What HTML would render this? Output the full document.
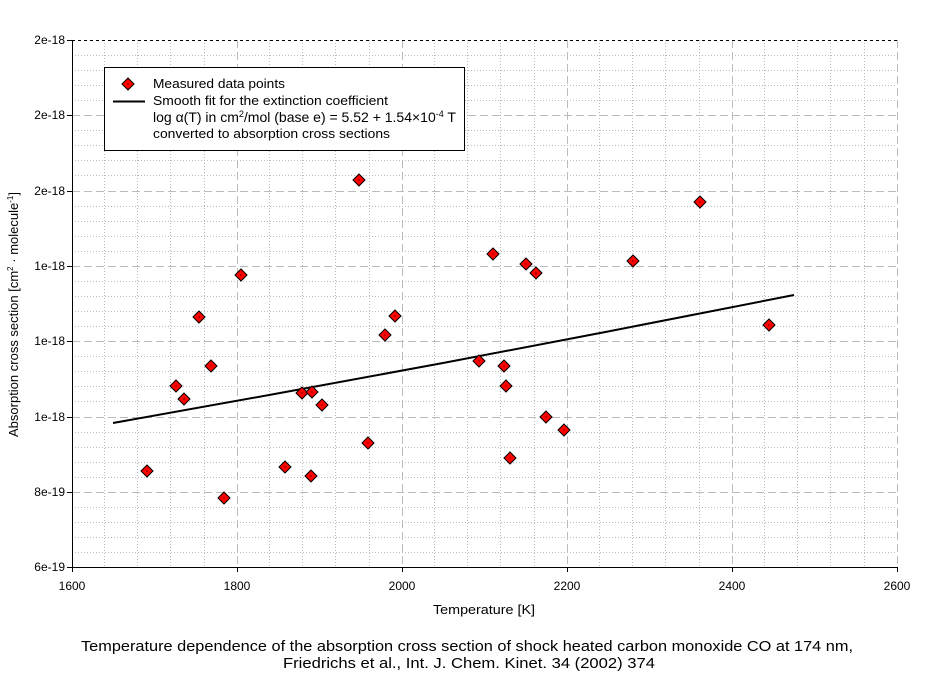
<!DOCTYPE html>
<html><head><meta charset="utf-8"><style>
body{margin:0;background:#fff;}
svg{display:block;font-family:"Liberation Sans",sans-serif;}
</style></head><body>
<svg width="937" height="676" viewBox="0 0 937 676">
<defs>
<g id="d"><polygon points="0,-6 6,0 0,6 -6,0" fill="#f00" stroke="#000" stroke-width="1"/><rect x="-0.5" y="-0.5" width="1" height="1" fill="#000"/></g>
</defs>
<g stroke="#bbb" stroke-width="1" stroke-dasharray="1,2">
<path d="M104.5 40V567M137.5 40V567M170.5 40V567M204.5 40V567M269.5 40V567M302.5 40V567M335.5 40V567M369.5 40V567M434.5 40V567M467.5 40V567M500.5 40V567M534.5 40V567M599.5 40V567M632.5 40V567M665.5 40V567M699.5 40V567M764.5 40V567M797.5 40V567M830.5 40V567M864.5 40V567"/>
<path d="M72 55.5H897M72 70.5H897M72 85.5H897M72 100.5H897M72 130.5H897M72 145.5H897M72 160.5H897M72 175.5H897M72 206.5H897M72 221.5H897M72 236.5H897M72 251.5H897M72 281.5H897M72 296.5H897M72 311.5H897M72 326.5H897M72 356.5H897M72 371.5H897M72 386.5H897M72 401.5H897M72 432.5H897M72 447.5H897M72 462.5H897M72 477.5H897M72 507.5H897M72 522.5H897M72 537.5H897M72 552.5H897"/>
</g>
<g stroke="#bbb" stroke-width="1" stroke-dasharray="8,4">
<path d="M237.5 40V567M402.5 40V567M567.5 40V567M732.5 40V567M897.5 40V567"/>
<path d="M72 115.5H897M72 191.5H897M72 266.5H897M72 341.5H897M72 417.5H897M72 492.5H897"/>
</g>
<path d="M72 40.5H897" stroke="#000" stroke-dasharray="3,3"/>
<path d="M72.5 40V567.5H897" stroke="#000" fill="none"/>
<g stroke="#000"><path d="M67 40.5H72M67 115.5H72M67 191.5H72M67 266.5H72M67 341.5H72M67 417.5H72M67 492.5H72M67 567.5H72M72.5 567V572M237.5 567V572M402.5 567V572M567.5 567V572M732.5 567V572M897.5 567V572"/></g>
<g font-size="12" text-anchor="end" fill="#000">
<text x="65" y="44">2e-18</text><text x="65" y="119">2e-18</text><text x="65" y="195">2e-18</text><text x="65" y="270">1e-18</text><text x="65" y="345">1e-18</text><text x="65" y="421">1e-18</text><text x="65" y="496">8e-19</text><text x="65" y="571">6e-19</text>
</g>
<g font-size="12" text-anchor="middle">
<text x="72" y="590">1600</text><text x="237" y="590">1800</text><text x="402" y="590">2000</text><text x="567" y="590">2200</text><text x="732" y="590">2400</text><text x="897" y="590">2600</text>
</g>
<text x="433" y="614" font-size="13" textLength="102" lengthAdjust="spacingAndGlyphs">Temperature [K]</text>
<text x="81" y="651" font-size="15" textLength="772" lengthAdjust="spacingAndGlyphs">Temperature dependence of the absorption cross section of shock heated carbon monoxide CO at 174 nm,</text>
<text x="283" y="668" font-size="15" textLength="372" lengthAdjust="spacingAndGlyphs">Friedrichs et al., Int. J. Chem. Kinet. 34 (2002) 374</text>
<text transform="translate(18,437) rotate(-90)" font-size="13">Absorption cross section [cm<tspan font-size="8" dy="-5">2</tspan><tspan dy="5"> · molecule</tspan><tspan font-size="8" dy="-5">-1</tspan><tspan dy="5">]</tspan></text>
<polyline fill="none" stroke="#000" stroke-width="2" points="113,423 278,393.4 443,363 608,331.5 794,295"/>
<g>
<use href="#d" x="147" y="471"/><use href="#d" x="176" y="386"/><use href="#d" x="184" y="399"/><use href="#d" x="199" y="317"/><use href="#d" x="211" y="366"/><use href="#d" x="224" y="498"/><use href="#d" x="241" y="275"/><use href="#d" x="285" y="467"/><use href="#d" x="302" y="393"/><use href="#d" x="311" y="476"/><use href="#d" x="312" y="392"/><use href="#d" x="322" y="405"/><use href="#d" x="359" y="180"/><use href="#d" x="368" y="443"/><use href="#d" x="385" y="335"/><use href="#d" x="395" y="316"/><use href="#d" x="479" y="361"/><use href="#d" x="493" y="254"/><use href="#d" x="504" y="366"/><use href="#d" x="506" y="386"/><use href="#d" x="510" y="458"/><use href="#d" x="526" y="264"/><use href="#d" x="536" y="273"/><use href="#d" x="546" y="417"/><use href="#d" x="564" y="430"/><use href="#d" x="633" y="261"/><use href="#d" x="700" y="202"/><use href="#d" x="769" y="325"/>
</g>
<rect x="104.5" y="67.5" width="360" height="83" fill="#fff" stroke="#000"/>
<use href="#d" x="128" y="84"/>
<path d="M113 101.5H145" stroke="#000" stroke-width="2"/>
<g font-size="13">
<text x="153" y="88" textLength="132" lengthAdjust="spacingAndGlyphs">Measured data points</text>
<text x="153" y="105" textLength="235" lengthAdjust="spacingAndGlyphs">Smooth fit for the extinction coefficient</text>
<text x="153" y="122" font-size="14">log α(T) in cm<tspan font-size="9" dy="-5">2</tspan><tspan dy="5">/mol (base e) = 5.52 + 1.54×10</tspan><tspan font-size="9" dy="-5">-4</tspan><tspan dy="5"> T</tspan></text>
<text x="153" y="138" textLength="237" lengthAdjust="spacingAndGlyphs">converted to absorption cross sections</text>
</g>
</svg>
</body></html>
